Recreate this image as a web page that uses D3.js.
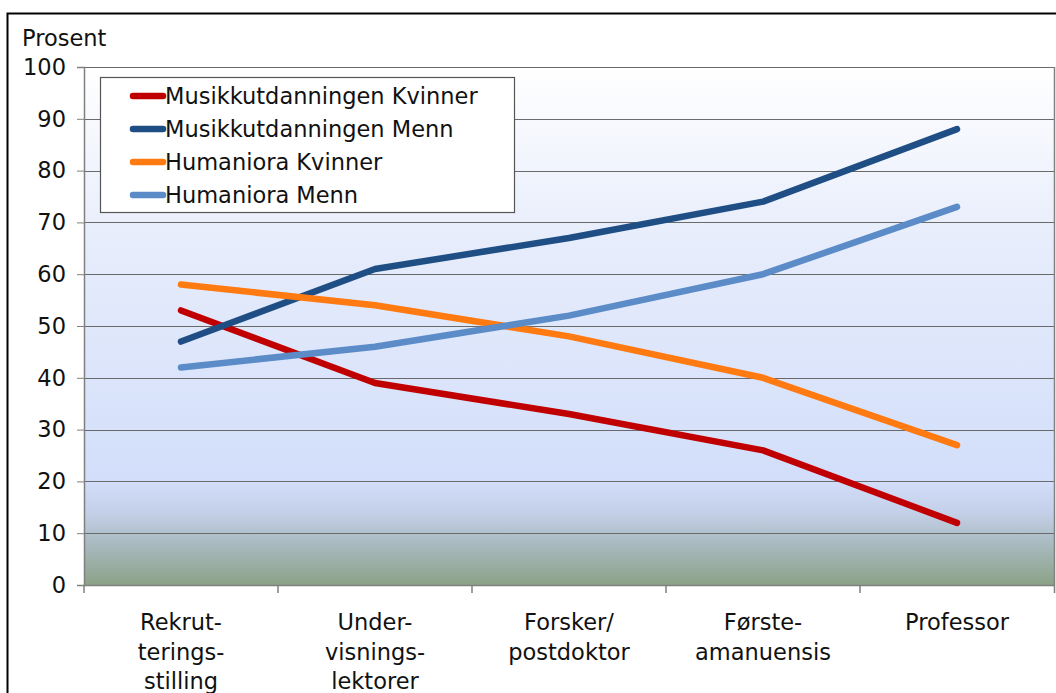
<!DOCTYPE html>
<html><head><meta charset="utf-8">
<script src="https://cdn.jsdelivr.net/npm/d3@7"></script>
<style>body{margin:0;background:#fff}svg{display:block;font-family:"DejaVu Sans",Verdana,sans-serif}</style>
</head><body><svg id="c" width="1056" height="693"></svg>
<script>
const categories = [["Rekrut-","terings-","stilling"],["Under-","visnings-","lektorer"],["Forsker/","postdoktor"],["Første-","amanuensis"],["Professor"]];
const catKeys = ["Rekrutteringsstilling","Undervisningslektorer","Forsker/postdoktor","Førsteamanuensis","Professor"];
const seriesNames = ["Musikkutdanningen Kvinner","Musikkutdanningen Menn","Humaniora Kvinner","Humaniora Menn"];
const musikkKvinner = [53,39,33,26,12];
const musikkMenn = [47,61,67,74,88];
const humKvinner = [58,54,48,40,27];
const humMenn = [42,46,52,60,73];
const yTicks = [0,10,20,30,40,50,60,70,80,90,100];
const colors = ["#C00000","#1F4E85","#FF7A10","#5B8CC8"];

const series = [musikkKvinner,musikkMenn,humKvinner,humMenn];
const svg = d3.select("#c");
const L=84,R=1054,T=67,B=585;
const FS=22.5;
const x = d3.scaleBand().domain(catKeys).range([L,R]);
const y = d3.scaleLinear().domain([0,100]).range([B,T]);

// frame
svg.append("path").attr("d","M7.5,700V13.5H1056").attr("fill","none").attr("stroke","#000").attr("stroke-width",2);

const defs=svg.append("defs");
const g=defs.append("linearGradient").attr("id","bg").attr("x1",0).attr("x2",0).attr("y1",0).attr("y2",1);
[[0,"#ffffff"],[0.35,"#e6ecfb"],[0.8,"#d2defa"],[0.86,"#c4d0e8"],[0.92,"#a9bac0"],[1,"#8ba287"]].forEach(s=>g.append("stop").attr("offset",s[0]).attr("stop-color",s[1]));
svg.append("rect").attr("x",L).attr("y",T).attr("width",R-L).attr("height",B-T).attr("fill","url(#bg)");

// grid
svg.append("g").selectAll("line").data(yTicks.filter(d=>d>0)).join("line")
 .attr("x1",L).attr("x2",R).attr("y1",d=>Math.round(y(d))+0.5).attr("y2",d=>Math.round(y(d))+0.5)
 .attr("stroke","#6a6a6a").attr("stroke-width",1.2);
svg.append("line").attr("x1",R+0.5).attr("x2",R+0.5).attr("y1",T).attr("y2",B+8).attr("stroke","#808080").attr("stroke-width",1.5);

// y axis
const ya=svg.append("g").attr("transform",`translate(${L},0)`).call(d3.axisLeft(y).tickValues(yTicks).tickSize(7).tickPadding(11));
ya.select(".domain").attr("stroke","#808080").attr("stroke-width",1.5);
ya.selectAll(".tick line").attr("stroke","#808080");
ya.selectAll("text").attr("font-size",FS).attr("fill","#111").attr("font-family","DejaVu Sans");

// x axis
const xa=svg.append("g").attr("transform",`translate(0,${B})`).call(d3.axisBottom(x).tickSize(0).tickFormat(""));
xa.select(".domain").attr("stroke","#808080").attr("stroke-width",1.5);
svg.append("g").selectAll("line").data(catKeys.slice(1)).join("line")
 .attr("x1",d=>x(d)).attr("x2",d=>x(d)).attr("y1",B).attr("y2",B+8).attr("stroke","#808080").attr("stroke-width",1.5);
svg.append("line").attr("x1",L).attr("x2",L).attr("y1",B).attr("y2",B+8).attr("stroke","#808080").attr("stroke-width",1.5);
catKeys.forEach((k,i)=>{
  const t=svg.append("text").attr("x",x(k)+x.bandwidth()/2).attr("y",630).attr("text-anchor","middle").attr("font-size",FS).attr("fill","#111");
  categories[i].forEach((ln,j)=>t.append("tspan").attr("x",x(k)+x.bandwidth()/2).attr("dy",j?29.5:0).text(ln));
});

svg.append("text").attr("x",22).attr("y",46).attr("font-size",FS).attr("fill","#111").text("Prosent");

// lines
const line=d3.line().x((d,i)=>x(catKeys[i])+x.bandwidth()/2).y(d=>y(d));
series.forEach((s,i)=>svg.append("path").attr("d",line(s)).attr("fill","none").attr("stroke",colors[i]).attr("stroke-width",6.5).attr("stroke-linecap","round").attr("stroke-linejoin","round"));

// legend
const lg=svg.append("g");
lg.append("rect").attr("x",100.5).attr("y",77.5).attr("width",414).attr("height",135).attr("fill","#fff").attr("stroke","#555").attr("stroke-width",1.2);
seriesNames.forEach((n,i)=>{
  const yy=96+i*33;
  lg.append("line").attr("x1",133).attr("x2",163).attr("y1",yy).attr("y2",yy).attr("stroke",colors[i]).attr("stroke-width",6.5).attr("stroke-linecap","round");
  lg.append("text").attr("x",165).attr("y",yy+8).attr("font-size",FS).attr("fill","#111").text(n);
});
</script></body></html>
